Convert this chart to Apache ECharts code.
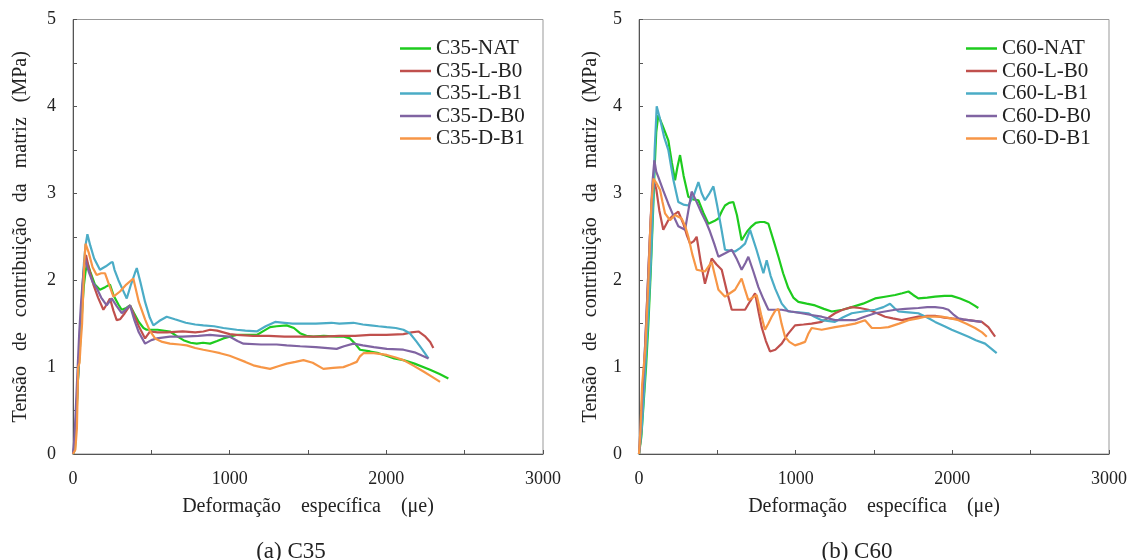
<!DOCTYPE html>
<html>
<head>
<meta charset="utf-8">
<script src="https://cdn.jsdelivr.net/npm/echarts@6/dist/echarts.min.js"></script>
<style>
html,body{margin:0;padding:0;background:#fff;}
#chart{width:1135px;height:560px;}
</style>
</head>
<body>
<div id="chart"></div>
<script>
// ---------- DATA ----------
const namesC35 = ['C35-NAT','C35-L-B0','C35-L-B1','C35-D-B0','C35-D-B1'];
const namesC60 = ['C60-NAT','C60-L-B0','C60-L-B1','C60-D-B0','C60-D-B1'];
const xTicks = [0, 1000, 2000, 3000];
const yTicks = [0, 1, 2, 3, 4, 5];

const c35_NAT = [[0,0],[12,0.05],[20,0.3],[30,0.8],[40,1.1],[50,1.4],[60,1.7],[70,1.95],[80,2.1],[92,2.2],[110,2.1],[140,1.95],[172,1.89],[205,1.92],[236,1.95],[260,1.82],[290,1.72],[311,1.66],[340,1.68],[364,1.71],[390,1.62],[420,1.52],[450,1.45],[470,1.43],[540,1.43],[619,1.41],[660,1.36],[705,1.31],[750,1.28],[790,1.27],[830,1.28],[875,1.27],[920,1.30],[960,1.33],[1000,1.35],[1045,1.37],[1100,1.37],[1173,1.37],[1220,1.42],[1258,1.46],[1300,1.47],[1364,1.48],[1410,1.45],[1449,1.39],[1490,1.36],[1534,1.35],[1600,1.36],[1683,1.35],[1730,1.35],[1768,1.33],[1800,1.27],[1832,1.20],[1896,1.18],[1950,1.16],[2000,1.13],[2050,1.10],[2109,1.08],[2180,1.04],[2279,0.97],[2340,0.92],[2396,0.87]];
const c35_LB0 = [[0,0],[10,0.1],[22,0.5],[35,1.0],[45,1.3],[55,1.7],[65,2.0],[75,2.2],[83,2.29],[100,2.15],[130,1.95],[160,1.8],[194,1.66],[215,1.72],[236,1.79],[258,1.65],[279,1.54],[300,1.55],[330,1.62],[364,1.71],[390,1.6],[420,1.47],[460,1.33],[492,1.41],[540,1.40],[600,1.40],[700,1.41],[780,1.40],[832,1.41],[875,1.43],[920,1.42],[960,1.40],[1000,1.38],[1045,1.37],[1150,1.36],[1250,1.36],[1350,1.35],[1471,1.35],[1600,1.35],[1700,1.36],[1800,1.36],[1896,1.37],[2000,1.37],[2109,1.38],[2160,1.40],[2205,1.41],[2250,1.35],[2280,1.29],[2300,1.22]];
const c35_LB1 = [[0,0],[12,0.1],[25,0.6],[38,1.1],[50,1.5],[60,1.9],[70,2.2],[80,2.4],[92,2.53],[110,2.4],[135,2.25],[172,2.12],[210,2.16],[240,2.2],[253,2.21],[265,2.12],[290,2.0],[320,1.88],[343,1.79],[370,1.95],[395,2.08],[407,2.14],[430,1.98],[460,1.75],[490,1.57],[513,1.48],[550,1.53],[598,1.58],[650,1.55],[720,1.51],[780,1.49],[832,1.48],[900,1.47],[960,1.45],[1045,1.43],[1100,1.42],[1173,1.41],[1230,1.47],[1290,1.52],[1350,1.51],[1400,1.50],[1471,1.50],[1550,1.50],[1650,1.51],[1700,1.50],[1790,1.51],[1850,1.49],[1900,1.48],[1950,1.47],[2003,1.46],[2060,1.45],[2109,1.43],[2150,1.39],[2194,1.29],[2230,1.2],[2269,1.10]];
const c35_DB0 = [[0,0],[10,0.2],[20,0.6],[30,1.0],[40,1.4],[50,1.7],[60,1.95],[70,2.15],[77,2.25],[100,2.1],[125,1.98],[151,1.91],[180,1.8],[215,1.71],[247,1.79],[280,1.7],[311,1.62],[340,1.67],[364,1.71],[390,1.55],[420,1.4],[460,1.27],[500,1.31],[534,1.33],[619,1.35],[700,1.35],[800,1.36],[875,1.37],[940,1.36],[1002,1.35],[1050,1.30],[1088,1.27],[1200,1.26],[1300,1.26],[1364,1.25],[1450,1.24],[1550,1.23],[1683,1.21],[1730,1.24],[1790,1.27],[1850,1.25],[1920,1.23],[2003,1.21],[2109,1.20],[2180,1.17],[2230,1.13],[2269,1.10]];
const c35_DB1 = [[0,0],[15,0.05],[25,0.3],[33,1.0],[42,1.05],[50,1.3],[58,1.5],[66,1.9],[72,2.2],[80,2.42],[100,2.32],[125,2.15],[151,2.06],[180,2.08],[204,2.08],[230,1.95],[258,1.81],[300,1.87],[340,1.95],[385,2.02],[420,1.75],[460,1.55],[490,1.42],[524,1.33],[570,1.29],[619,1.27],[680,1.26],[726,1.25],[780,1.22],[832,1.20],[890,1.18],[939,1.16],[1000,1.13],[1045,1.10],[1100,1.06],[1151,1.02],[1200,1.0],[1258,0.98],[1310,1.01],[1364,1.04],[1420,1.06],[1471,1.08],[1530,1.05],[1598,0.98],[1660,0.99],[1726,1.00],[1770,1.03],[1811,1.06],[1830,1.12],[1854,1.16],[1920,1.16],[2003,1.14],[2060,1.11],[2109,1.08],[2170,1.02],[2237,0.95],[2290,0.89],[2343,0.83]];

const c60_NAT = [[0,0],[15,0.2],[30,0.6],[45,1.0],[60,1.5],[75,2.1],[90,2.8],[100,3.3],[110,3.7],[123,3.9],[150,3.78],[187,3.61],[210,3.35],[230,3.15],[245,3.3],[262,3.44],[285,3.2],[315,2.96],[345,2.93],[379,2.92],[410,2.78],[443,2.65],[480,2.68],[507,2.71],[530,2.8],[549,2.86],[575,2.89],[602,2.90],[625,2.75],[655,2.46],[690,2.56],[719,2.62],[745,2.66],[773,2.67],[800,2.67],[826,2.65],[860,2.45],[890,2.27],[920,2.08],[953,1.91],[985,1.8],[1017,1.75],[1070,1.73],[1124,1.71],[1180,1.67],[1230,1.64],[1300,1.66],[1358,1.69],[1430,1.73],[1507,1.79],[1570,1.81],[1635,1.83],[1680,1.85],[1720,1.87],[1750,1.83],[1783,1.79],[1840,1.80],[1890,1.81],[1950,1.82],[1996,1.82],[2050,1.79],[2103,1.75],[2140,1.71],[2166,1.68]];
const c60_LB0 = [[0,0],[12,0.2],[25,0.7],[38,1.2],[50,1.7],[62,2.2],[75,2.7],[85,3.0],[97,3.13],[110,3.05],[130,2.8],[155,2.58],[187,2.69],[220,2.75],[251,2.79],[283,2.65],[305,2.52],[326,2.42],[350,2.45],[368,2.50],[395,2.2],[421,1.96],[445,2.12],[464,2.25],[495,2.18],[528,2.12],[560,1.88],[592,1.66],[640,1.66],[677,1.66],[710,1.76],[741,1.85],[765,1.62],[783,1.46],[810,1.3],[836,1.18],[870,1.2],[911,1.27],[950,1.38],[996,1.48],[1050,1.49],[1102,1.50],[1166,1.52],[1210,1.57],[1251,1.62],[1300,1.66],[1358,1.69],[1410,1.68],[1464,1.66],[1520,1.62],[1571,1.58],[1620,1.56],[1677,1.54],[1730,1.56],[1783,1.58],[1840,1.59],[1890,1.59],[1950,1.57],[1996,1.56],[2050,1.55],[2103,1.54],[2150,1.53],[2188,1.52],[2230,1.46],[2273,1.35]];
const c60_LB1 = [[0,0],[18,0.3],[35,0.8],[50,1.3],[65,1.8],[78,2.3],[90,2.9],[100,3.5],[108,3.8],[113,4.0],[135,3.85],[160,3.65],[187,3.5],[220,3.15],[251,2.9],[283,2.87],[315,2.86],[350,2.98],[379,3.13],[400,3.0],[421,2.92],[450,3.0],[475,3.08],[500,2.85],[525,2.6],[549,2.35],[580,2.34],[613,2.33],[645,2.37],[677,2.42],[709,2.58],[750,2.35],[794,2.08],[815,2.23],[840,2.05],[870,1.9],[911,1.73],[953,1.64],[1020,1.63],[1081,1.62],[1120,1.58],[1166,1.54],[1251,1.52],[1300,1.57],[1358,1.62],[1430,1.64],[1507,1.66],[1560,1.69],[1602,1.73],[1630,1.68],[1656,1.64],[1720,1.63],[1783,1.62],[1840,1.57],[1890,1.52],[1950,1.47],[1996,1.43],[2050,1.39],[2103,1.35],[2150,1.31],[2209,1.27],[2250,1.21],[2283,1.16]];
const c60_DB0 = [[0,0],[10,0.3],[22,0.7],[35,1.1],[48,1.6],[60,2.1],[72,2.6],[85,3.1],[98,3.38],[110,3.25],[123,3.19],[155,3.03],[187,2.88],[220,2.74],[251,2.62],[294,2.58],[315,2.8],[336,3.02],[368,2.9],[400,2.77],[430,2.66],[453,2.56],[480,2.42],[507,2.27],[550,2.31],[592,2.35],[625,2.24],[655,2.12],[680,2.2],[698,2.27],[730,2.1],[762,1.92],[795,1.78],[826,1.66],[870,1.66],[911,1.66],[970,1.64],[1039,1.62],[1100,1.6],[1166,1.58],[1251,1.54],[1320,1.54],[1379,1.54],[1440,1.58],[1507,1.62],[1570,1.64],[1635,1.66],[1700,1.67],[1783,1.68],[1840,1.69],[1890,1.69],[1940,1.68],[1975,1.66],[2010,1.6],[2039,1.56],[2070,1.55],[2103,1.54],[2150,1.53],[2188,1.52]];
const c60_DB1 = [[0,0],[10,0.3],[20,0.8],[30,1.0],[40,1.2],[50,1.6],[60,2.0],[70,2.5],[80,2.9],[92,3.17],[110,3.12],[134,3.04],[150,2.9],[166,2.77],[198,2.69],[230,2.75],[272,2.71],[295,2.62],[315,2.50],[340,2.3],[368,2.12],[421,2.10],[464,2.21],[485,2.05],[507,1.89],[549,1.81],[580,1.85],[613,1.89],[655,2.02],[675,1.9],[698,1.77],[725,1.8],[751,1.83],[780,1.6],[804,1.43],[825,1.5],[847,1.58],[870,1.65],[890,1.67],[910,1.5],[932,1.35],[960,1.29],[996,1.25],[1030,1.27],[1060,1.29],[1080,1.38],[1102,1.45],[1166,1.43],[1251,1.46],[1320,1.48],[1379,1.50],[1443,1.54],[1486,1.45],[1540,1.45],[1592,1.46],[1660,1.50],[1720,1.54],[1780,1.56],[1826,1.58],[1880,1.58],[1932,1.58],[1990,1.56],[2039,1.54],[2090,1.5],[2145,1.45],[2190,1.40],[2220,1.35]];

// ---------- STYLE ----------
const colors = ['#1ecb1e', '#c0504d', '#4bacc6', '#8064a2', '#f79646'];
const FONT = "'Liberation Serif','Times New Roman',serif";
const TXT = '#222';

const dataC35 = [c35_NAT, c35_LB0, c35_LB1, c35_DB0, c35_DB1];
const dataC60 = [c60_NAT, c60_LB0, c60_LB1, c60_DB0, c60_DB1];

const SP3 = '\u00a0\u00a0\u00a0';
const SP4 = '\u00a0\u00a0\u00a0\u00a0';

function xAxis(gi){
  return {
    type:'value', gridIndex:gi, min:0, max:3000, interval:500,
    name:'Deformação' + SP4 + 'específica' + SP4 + '(μe)', nameLocation:'middle', nameGap:43,
    nameTextStyle:{fontFamily:FONT, fontSize:20, color:TXT},
    axisLine:{show:true, lineStyle:{color:'#555', width:1}},
    axisTick:{show:true, inside:true, length:4, lineStyle:{color:'#555'}},
    axisLabel:{fontFamily:FONT, fontSize:18, color:TXT, margin:16,
      formatter:function(v){ return xTicks.indexOf(v) >= 0 ? String(v) : ''; }},
    splitLine:{show:false}
  };
}
function yAxis(gi, gap){
  return {
    type:'value', gridIndex:gi, min:0, max:5, interval:0.5,
    name:'Tensão' + SP3 + 'de' + SP3 + 'contribuição' + SP3 + 'da' + SP3 + 'matriz' + SP3 + '(MPa)',
    nameLocation:'middle', nameGap:gap,
    nameTextStyle:{fontFamily:FONT, fontSize:20, color:TXT},
    axisLine:{show:true, lineStyle:{color:'#555', width:1}},
    axisTick:{show:true, inside:true, length:4, lineStyle:{color:'#555'}},
    axisLabel:{fontFamily:FONT, fontSize:18, color:TXT, margin:17,
      formatter:function(v){ return yTicks.indexOf(v) >= 0 ? String(v) : ''; }},
    splitLine:{show:false}
  };
}

const series = [];
namesC35.forEach((n,i)=>series.push({
  name:n, type:'line', xAxisIndex:0, yAxisIndex:0, data:dataC35[i],
  symbol:'none', showSymbol:false, smooth:false,
  lineStyle:{width:2.2, color:colors[i]}, itemStyle:{color:colors[i]}
}));
namesC60.forEach((n,i)=>series.push({
  name:n, type:'line', xAxisIndex:1, yAxisIndex:1, data:dataC60[i],
  symbol:'none', showSymbol:false, smooth:false,
  lineStyle:{width:2.2, color:colors[i]}, itemStyle:{color:colors[i]}
}));

function legend(left, names){
  return {
    left:left, top:33, orient:'vertical', data:names,
    icon:'rect', itemWidth:31, itemHeight:2.5, itemGap:1.5,
    textStyle:{fontFamily:FONT, fontSize:21, color:TXT, lineHeight:20},
    selectedMode:false
  };
}

const chart = echarts.init(document.getElementById('chart'), null, {renderer:'canvas'});
chart.setOption({
  animation:false,
  backgroundColor:'#fff',
  grid:[
    {left:73, top:19.5, width:470, height:434.5, show:true, borderColor:'#999', borderWidth:1, containLabel:false},
    {left:639, top:19.5, width:470, height:434.5, show:true, borderColor:'#999', borderWidth:1, containLabel:false}
  ],
  xAxis:[xAxis(0), xAxis(1)],
  yAxis:[yAxis(0, 42), yAxis(1, 38)],
  legend:[legend(395, namesC35), legend(961, namesC60)],
  title:[
    {text:'(a) C35', left:286, top:535, textAlign:'center', textStyle:{fontFamily:FONT, fontSize:23, fontWeight:'normal', color:TXT}},
    {text:'(b) C60', left:852, top:535, textAlign:'center', textStyle:{fontFamily:FONT, fontSize:23, fontWeight:'normal', color:TXT}}
  ],
  series:series
});
</script>
</body>
</html>
